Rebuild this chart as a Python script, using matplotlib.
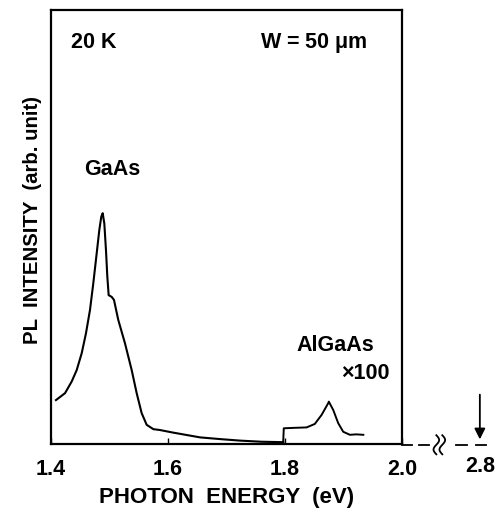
import numpy as np
import matplotlib
matplotlib.use("Agg")
import matplotlib.pyplot as plt

plt.rcParams['font.family'] = ['Liberation Sans', 'DejaVu Sans']
plt.rcParams['font.weight'] = 'bold'

# GaAs band (x1)
e_gaas = [1.4085, 1.424, 1.4353, 1.4439, 1.4525, 1.4598, 1.4667, 1.4723,
          1.4781, 1.4826, 1.486, 1.4884, 1.4912, 1.494, 1.4963, 1.4986,
          1.5038, 1.5077, 1.515, 1.5265, 1.538, 1.5465, 1.555, 1.5636,
          1.575, 1.5863, 1.609, 1.63, 1.655, 1.69, 1.723, 1.76, 1.797]
i_gaas = [0.101, 0.117, 0.1436, 0.170, 0.209, 0.255, 0.309, 0.370,
          0.439, 0.493, 0.524, 0.532, 0.508, 0.447, 0.386, 0.343,
          0.339, 0.332, 0.286, 0.232, 0.170, 0.117, 0.071, 0.044,
          0.034, 0.032, 0.026, 0.021, 0.015, 0.011, 0.0076, 0.005, 0.004]

# AlGaAs band (x100)
e_algaas = [1.797, 1.798, 1.815, 1.837, 1.851, 1.8627, 1.874, 1.875,
            1.8826, 1.891, 1.8996, 1.911, 1.922, 1.934]
i_algaas = [0.004, 0.036, 0.037, 0.038, 0.046, 0.067, 0.094, 0.0975,
            0.078, 0.048, 0.028, 0.021, 0.022, 0.021]

xticks = [1.4, 1.6, 1.8, 2.0]

fig = plt.figure(figsize=(4.95, 5.12), dpi=100)
ax = fig.add_axes([0.103, 0.133, 0.709, 0.847])

ax.plot(e_gaas, i_gaas, color='black', lw=1.5)
ax.plot(e_algaas, i_algaas, color='black', lw=1.4)

ax.set_xlim(1.4, 2.0)
ax.set_ylim(0, 1)
ax.set_xticks(xticks)
ax.set_xticklabels(['%.1f' % t for t in xticks], fontsize=15.5, fontweight='bold')
ax.set_yticks([])
ax.tick_params(axis='x', direction='in', length=4, width=1, pad=11)
for s in ax.spines.values():
    s.set_linewidth(1.6)

ax.set_xlabel('PHOTON  ENERGY  (eV)', fontsize=16, fontweight='bold', labelpad=5)
ax.set_ylabel('PL  INTENSITY  (arb. unit)', fontsize=14.7, fontweight='bold', va='center')
ax.yaxis.set_label_coords(-0.052, 0.516)

ax.text(0.057, 0.925, '20 K', transform=ax.transAxes, fontsize=15.5, fontweight='bold', va='center')
ax.text(0.595, 0.925, r'W = 50 $\mathregular{\mu}$m', transform=ax.transAxes,
        fontsize=15.5, fontweight='bold', va='center')
ax.text(1.505, 0.632, 'GaAs', fontsize=15.5, fontweight='bold', ha='center', va='center')
ax.text(1.8855, 0.227, 'AlGaAs', fontsize=15.5, fontweight='bold', ha='center', va='center')
ax.text(1.937, 0.163, '\u00d7100', fontsize=15.5, fontweight='bold', ha='center', va='center')

# broken axis extension to 2.8
kw = dict(transform=ax.transAxes, clip_on=False, color='black', lw=1.3)
yb = -0.002
for x0, x1 in [(1.0, 1.028), (1.05, 1.078), (1.155, 1.185), (1.21, 1.24)]:
    ax.plot([x0, x1], [yb, yb], **kw)
t = np.linspace(-1, 1, 40)
for xc in [1.098, 1.115]:
    ax.plot(xc + 0.008 * np.sin(t * np.pi), yb + 0.022 * t, **kw)
ax.annotate('', xy=(1.222, 0.004), xytext=(1.222, 0.12), xycoords='axes fraction',
            arrowprops=dict(arrowstyle='-|>', color='black', lw=1.3, mutation_scale=16))
ax.text(1.222, -0.053, '2.8', transform=ax.transAxes, fontsize=15.5, fontweight='bold',
        ha='center', va='center')

fig.savefig('out.png', dpi=100)
